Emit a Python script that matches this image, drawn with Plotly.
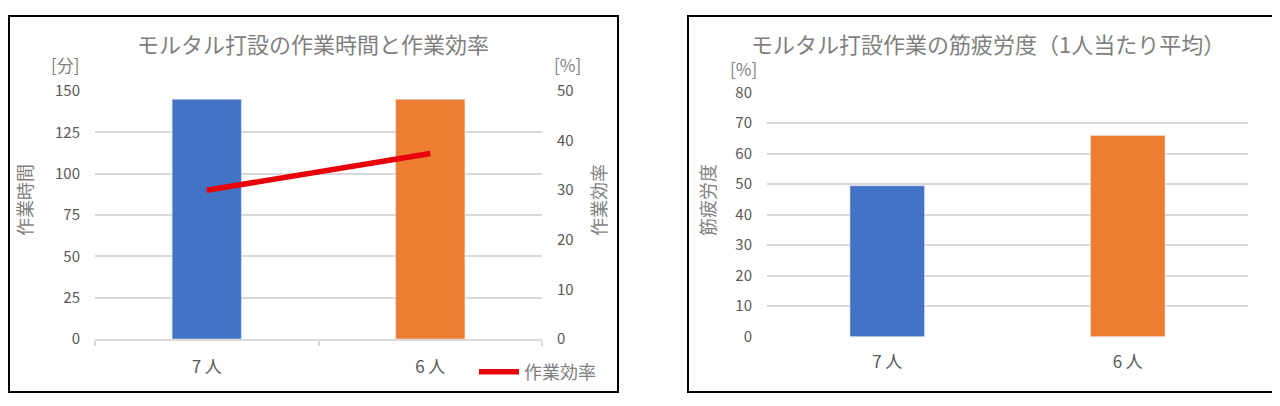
import plotly.graph_objects as go

# data
categories = ["7 人", "6 人"]
work_time = [145, 145]          # 作業時間 [分]
work_eff = [30, 37.4]           # 作業効率 [%]
fatigue = [49.5, 66]            # 筋疲労度 [%]

bar_colors = ["#4472C4", "#ED7D31"]
FONT = "Noto Sans CJK JP"
GRID = "#D9D9D9"
TXT = "#595959"
TTL = "#7F7F7F"

W, H = 1280, 406
OFF = 8  # default body margin of the html page


def px(x):
    return (x - OFF) / W


def py(y):
    return 1 - (y - OFF) / H


fig = go.Figure()

# left chart: work time bars + efficiency line
fig.add_trace(go.Bar(x=categories, y=work_time, marker_color=bar_colors,
                     showlegend=False, xaxis="x", yaxis="y"))
fig.add_trace(go.Scatter(x=categories, y=work_eff, mode="lines", name="作業効率",
                         line=dict(color="#E8000B", width=5.5),
                         xaxis="x", yaxis="y2"))

# right chart: fatigue bars
fig.add_trace(go.Bar(x=categories, y=fatigue, marker_color=bar_colors,
                     showlegend=False, xaxis="x3", yaxis="y3"))

tickfont = dict(family=FONT, size=15, color=TXT)
xtickfont = dict(family=FONT, size=17, color=TXT)

fig.update_layout(
    width=W, height=H,
    margin=dict(l=0, r=0, t=0, b=0),
    paper_bgcolor="white", plot_bgcolor="white",
    font=dict(family=FONT, color=TXT),
    bargap=0.69,
    xaxis=dict(domain=[px(95), px(542)], anchor="y", type="category",
               automargin=False,
               showline=True, linecolor=GRID, linewidth=1.5,
               ticks="outside", tickson="boundaries", ticklen=5,
               tickcolor=GRID, tickwidth=1.5,
               ticklabelstandoff=12, tickfont=xtickfont),
    yaxis=dict(domain=[py(339), py(91)], anchor="x", range=[0, 150],
               automargin=False,
               tickvals=[0, 25, 50, 75, 100, 125, 150],
               showgrid=True, gridcolor=GRID, gridwidth=1.5, zeroline=False,
               ticklabelstandoff=14, tickfont=tickfont),
    yaxis2=dict(overlaying="y", side="right", anchor="x", range=[0, 50],
                automargin=False,
                tickvals=[0, 10, 20, 30, 40, 50], showgrid=False,
                zeroline=False, ticklabelstandoff=14, tickfont=tickfont),
    xaxis3=dict(domain=[px(767), px(1248)], anchor="y3", type="category",
                automargin=False, showline=False, ticks="",
                ticklabelstandoff=13, tickfont=xtickfont),
    yaxis3=dict(domain=[py(336.7), py(92.7)], anchor="x3", range=[0, 80],
                automargin=False,
                tickvals=list(range(0, 81, 10)),
                showgrid=True, gridcolor=GRID, gridwidth=1.5, zeroline=False,
                ticklabelstandoff=14, tickfont=tickfont),
    legend=dict(x=px(474), y=py(372), xanchor="left", yanchor="middle",
                font=dict(family=FONT, size=18, color=TTL),
                bgcolor="rgba(0,0,0,0)", itemwidth=40),
)

# chart frames
for x0, x1 in [(9, 618), (688, 1273)]:
    fig.add_shape(type="rect", xref="paper", yref="paper",
                  x0=px(x0), x1=px(x1), y0=py(392), y1=py(16),
                  line=dict(color="black", width=2))

notes = [
    ("モルタル打設の作業時間と作業効率", 313, 43, 22, 0),
    ("モルタル打設作業の筋疲労度（1人当たり平均）", 988, 43, 22, 0),
    ("[分]", 65, 64, 17, 0),
    ("[%]", 567, 64, 17, 0),
    ("[%]", 743, 68, 17, 0),
    ("作業時間", 24, 200, 18, -90),
    ("作業効率", 598, 200, 18, -90),
    ("筋疲労度", 707, 200, 18, -90),
]
for text, x, y, size, angle in notes:
    fig.add_annotation(text=text, x=px(x), y=py(y), xref="paper", yref="paper",
                       xanchor="center", yanchor="middle",
                       showarrow=False, textangle=angle,
                       font=dict(family=FONT, size=size, color=TTL))

fig.write_html("out.html")
